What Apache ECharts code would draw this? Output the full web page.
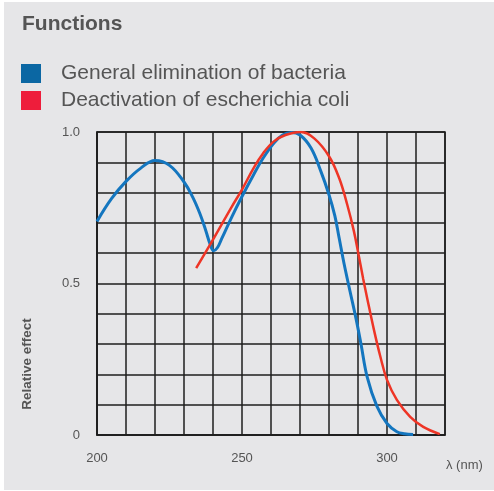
<!DOCTYPE html>
<html>
<head>
<meta charset="utf-8">
<script src="https://cdn.jsdelivr.net/npm/echarts@6/dist/echarts.min.js"></script>
<style>
html,body{margin:0;padding:0;background:#ffffff;}
#chart{width:494px;height:491px;}
</style>
</head>
<body>
<div id="chart"></div>
<script>
// ---- Data (wavelength nm, relative effect) ----
var seriesNames = ['General elimination of bacteria', 'Deactivation of escherichia coli'];
var xTickLabels = [200, 250, 300];
var yTickLabels = { 0: '0', 0.5: '0.5', 1: '1.0' };

var bacteriaX = [200, 205, 210, 215, 220, 225, 230, 233, 235.5, 237.5, 239, 240.2, 241.5, 243, 246.5, 250, 254, 257.3, 261, 264, 267, 270, 273.8, 277.2, 280, 282, 283.5, 285.2, 287.3, 289.3, 291, 293.2, 296.5, 300, 303.4, 306, 309];
var bacteriaY = [0.705, 0.78, 0.837, 0.88, 0.906, 0.89, 0.835, 0.785, 0.73, 0.675, 0.63, 0.608, 0.618, 0.648, 0.72, 0.787, 0.859, 0.914, 0.964, 0.99, 0.998, 0.99, 0.947, 0.87, 0.793, 0.724, 0.65, 0.565, 0.472, 0.385, 0.302, 0.19, 0.095, 0.038, 0.011, 0.004, 0.002];

var coliX = [234.2, 240.3, 246.5, 250, 254, 257.3, 261, 265, 270.3, 275, 280, 283.5, 286.3, 288.6, 290.3, 291.8, 293.2, 295.5, 297.7, 300, 303.4, 308, 312.5, 318.2];
var coliY = [0.551, 0.65, 0.754, 0.81, 0.881, 0.93, 0.969, 0.99, 1.0, 0.978, 0.92, 0.848, 0.76, 0.672, 0.59, 0.515, 0.45, 0.347, 0.259, 0.182, 0.116, 0.06, 0.027, 0.003];

function pairs(xs, ys) { return xs.map(function (x, i) { return [x, ys[i]]; }); }

var FONT = '"Liberation Sans", Arial, sans-serif';
var chart = echarts.init(document.getElementById('chart'), null, { renderer: 'canvas' });
var option = {
  backgroundColor: '#ffffff',
  animation: false,
  graphic: [
    { type: 'rect', left: 4, top: 2, shape: { width: 490, height: 488 }, style: { fill: '#e6e6e8' }, z: -10 },
    { type: 'text', left: 446, top: 459, style: { text: 'λ (nm)', fill: '#555', font: '13px ' + FONT } },
    { type: 'text', x: 27, y: 364, rotation: Math.PI / 2, style: { text: 'Relative effect', fill: '#555', font: 'bold 13.5px ' + FONT, align: 'center', verticalAlign: 'middle' } }
  ],
  title: {
    text: 'Functions', left: 22, top: 14, padding: 0,
    textStyle: { fontFamily: FONT, fontSize: 21, fontWeight: 'bold', color: '#555' }
  },
  legend: {
    left: 21, top: 63, orient: 'vertical', icon: 'rect', itemWidth: 20, itemHeight: 19, itemGap: 6,
    padding: 0, selectedMode: false,
    data: [
      { name: seriesNames[0], itemStyle: { color: '#0b67a3' } },
      { name: seriesNames[1], itemStyle: { color: '#ee1d3b' } }
    ],
    textStyle: { fontFamily: FONT, fontSize: 21, color: '#555', padding: [0, 0, 0, 15] }
  },
  grid: { left: 97, right: 49, top: 132, bottom: 56, show: true, borderColor: '#1e1e1e', borderWidth: 1.5, backgroundColor: 'transparent' },
  xAxis: {
    type: 'value', min: 200, max: 320, interval: 10,
    axisLine: { show: true, lineStyle: { color: '#1e1e1e', width: 1.5 } },
    axisTick: { show: false },
    splitLine: { show: true, lineStyle: { color: '#1e1e1e', width: 1.5 } },
    axisLabel: {
      margin: 17, color: '#555', fontSize: 13, fontFamily: FONT,
      formatter: function (v) { return xTickLabels.indexOf(v) >= 0 ? String(v) : ''; }
    }
  },
  yAxis: {
    type: 'value', min: 0, max: 1, interval: 0.1,
    axisLine: { show: true, lineStyle: { color: '#1e1e1e', width: 1.5 } },
    axisTick: { show: false },
    splitLine: { show: true, lineStyle: { color: '#1e1e1e', width: 1.5 } },
    axisLabel: {
      margin: 17, color: '#555', fontSize: 13, fontFamily: FONT,
      formatter: function (v) { var k = Math.round(v * 10) / 10; return yTickLabels.hasOwnProperty(k) ? yTickLabels[k] : ''; }
    }
  },
  series: [
    { name: seriesNames[0], type: 'line', data: pairs(bacteriaX, bacteriaY), smooth: 0.4, showSymbol: false,
      itemStyle: { color: '#1476bf' }, lineStyle: { color: '#1476bf', width: 3 } },
    { name: seriesNames[1], type: 'line', data: pairs(coliX, coliY), smooth: 0.4, showSymbol: false,
      itemStyle: { color: '#ee3526' }, lineStyle: { color: '#ee3526', width: 2.5 } }
  ]
};
chart.setOption(option);
</script>
</body>
</html>
